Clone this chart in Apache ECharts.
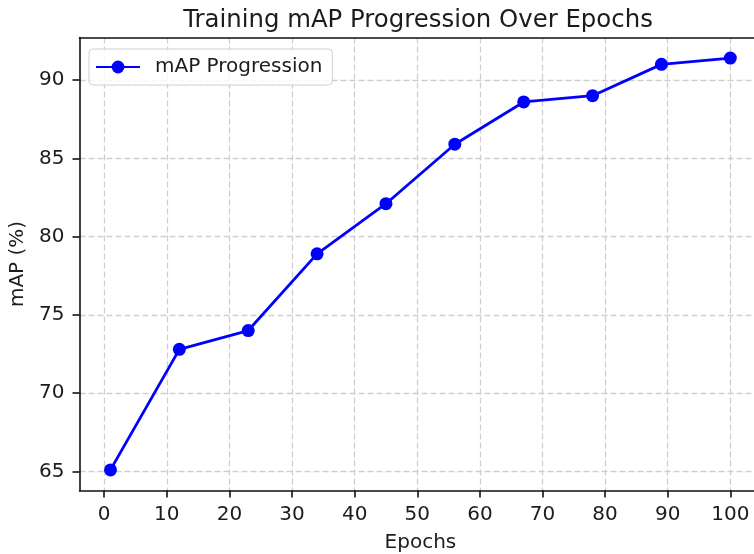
<!DOCTYPE html>
<html>
<head>
<meta charset="utf-8">
<script src="https://cdn.jsdelivr.net/npm/echarts@6/dist/echarts.min.js"></script>
<style>
html,body{margin:0;padding:0;background:#fff;}
#chart{width:754px;height:554px;}
</style>
</head>
<body>
<div id="chart"></div>
<script>
const epochs = [1, 12, 23, 34, 45, 56, 67, 78, 89, 100];
const mapValues = [65.1, 72.8, 74.0, 78.9, 82.1, 85.9, 88.6, 89.0, 91.0, 91.4];
const xTicks = [0, 10, 20, 30, 40, 50, 60, 70, 80, 90, 100];
const yTicks = [65, 70, 75, 80, 85, 90];

const FONT = 'DejaVu Sans';
const TXT = '#1c1c1c';
const chart = echarts.init(document.getElementById('chart'));
const gridLine = { color: '#cfcfcf', width: 1.3, type: [6, 3] };
const spine = { color: '#111', width: 1.6 };

chart.setOption({
  animation: false,
  backgroundColor: '#fff',
  title: {
    text: 'Training mAP Progression Over Epochs',
    left: 413,
    textAlign: 'center',
    top: 4,
    textStyle: { fontFamily: FONT, fontSize: 24.4, fontWeight: 'normal', color: TXT }
  },
  legend: {
    left: 89,
    top: 49,
    orient: 'horizontal',
    itemWidth: 44,
    itemHeight: 16,
    padding: [8, 10, 8, 6],
    backgroundColor: 'rgba(255,255,255,0.8)',
    borderColor: '#d0d0d0',
    borderWidth: 1,
    borderRadius: 4,
    textStyle: { fontFamily: FONT, fontSize: 20, color: TXT, padding: [0, 0, 0, 10] },
    data: ['mAP Progression']
  },
  grid: {
    left: 79.5, width: 681.8, top: 37.5, bottom: 63.5,
    outerBoundsMode: 'none',
    containLabel: false,
    show: false
  },
  xAxis: [{
    type: 'value',
    min: -3.95,
    max: 104.95,
    position: 'bottom',
    name: 'Epochs',
    nameLocation: 'middle',
    nameGap: 42,
    nameTextStyle: { fontFamily: FONT, fontSize: 20, color: TXT },
    axisLine: { show: true, onZero: false, lineStyle: spine },
    axisTick: { show: true, inside: false, customValues: xTicks, length: 7, lineStyle: spine },
    axisLabel: { customValues: xTicks, margin: 14, fontFamily: FONT, fontSize: 20, color: TXT },
    splitLine: { show: true, lineStyle: gridLine }
  }, {
    type: 'value',
    min: -3.95,
    max: 104.95,
    position: 'top',
    axisLine: { show: true, onZero: false, lineStyle: spine },
    axisTick: { show: false },
    axisLabel: { show: false },
    splitLine: { show: false }
  }],
  yAxis: {
    type: 'value',
    min: 63.785,
    max: 92.715,
    name: 'mAP (%)',
    nameLocation: 'middle',
    nameRotate: 90,
    nameGap: 45,
    nameTextStyle: { fontFamily: FONT, fontSize: 20, color: TXT },
    axisLine: { show: true, onZero: false, lineStyle: spine },
    axisTick: { show: true, inside: false, customValues: yTicks, length: 7, lineStyle: spine },
    axisLabel: { customValues: yTicks, margin: 15, fontFamily: FONT, fontSize: 20, color: TXT },
    splitLine: { show: true, lineStyle: gridLine }
  },
  series: [{
    name: 'mAP Progression',
    type: 'line',
    xAxisIndex: 0,
    data: epochs.map((e, i) => [e, mapValues[i]]),
    symbol: 'circle',
    symbolSize: 13,
    lineStyle: { color: '#0000ff', width: 2.8 },
    itemStyle: { color: '#0000ff' },
    emphasis: { disabled: true }
  }]
});
</script>
</body>
</html>
